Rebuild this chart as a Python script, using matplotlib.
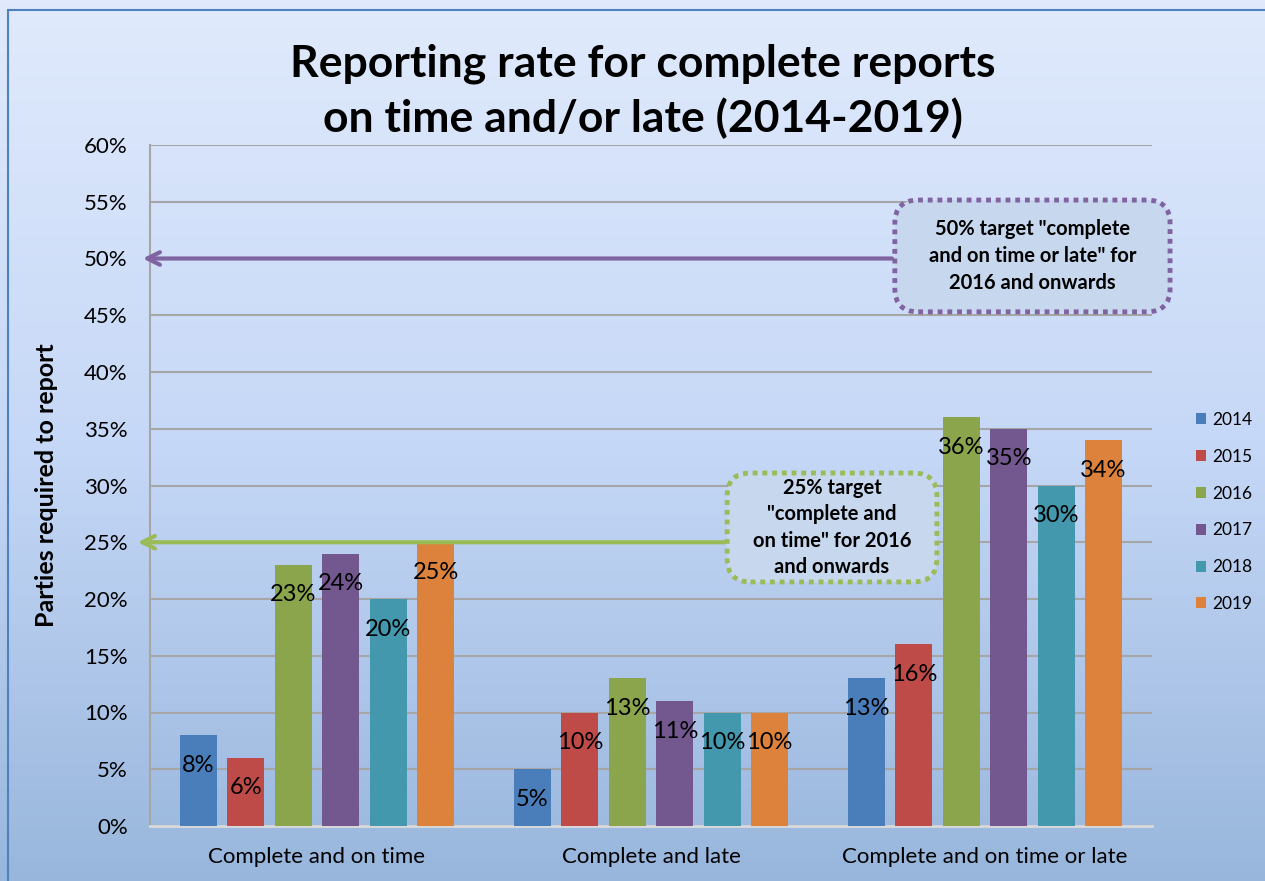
import numpy as np
import matplotlib.pyplot as plt
from matplotlib.colors import LinearSegmentedColormap
from matplotlib.patches import FancyBboxPatch, Rectangle

# chart data
categories = ['Complete and on time', 'Complete and late', 'Complete and on time or late']
years = ['2014', '2015', '2016', '2017', '2018', '2019']
values = {
    '2014': [8, 5, 13],
    '2015': [6, 10, 16],
    '2016': [23, 13, 36],
    '2017': [24, 11, 35],
    '2018': [20, 10, 30],
    '2019': [25, 10, 34],
}
colors = ['#4a7ebb', '#be4b48', '#8ba54c', '#72588e', '#4398ae', '#dc823c']
target_high = 50
target_low = 25

plt.rcParams['font.family'] = ['Lato', 'DejaVu Sans']

fig = plt.figure(figsize=(12.65, 8.81), dpi=100)

# gradient background over the whole figure
bg = fig.add_axes([0, 0, 1, 1], zorder=-10)
cmap = LinearSegmentedColormap.from_list('bg', ['#e0eafc', '#c6d8f7', '#98b6dc'])
grad = np.linspace(0, 1, 256).reshape(-1, 1)
bg.imshow(grad, aspect='auto', cmap=cmap, extent=[0, 1, 0, 1], origin='upper')
bg.axis('off')
fig.patches.append(Rectangle((8 / 1265, -0.05), 1.2, 1.05 - 10 / 881,
                             transform=fig.transFigure, fill=False,
                             edgecolor='#4f81bd', linewidth=1.5))

ax = fig.add_axes([150 / 1265, 55 / 881, 1002 / 1265, 681 / 881])
ax.patch.set_alpha(0)

x = np.arange(len(categories))
step = 0.142
width = 0.111
for i, (yr, c) in enumerate(zip(years, colors)):
    pos = x + (i - 2.5) * step
    bars = ax.bar(pos, values[yr], width=width, color=c, label=yr, zorder=3)
    for b, v in zip(bars, values[yr]):
        ax.annotate(f'{v}%', (b.get_x() + b.get_width() / 2, v),
                    xytext=(0, -30), textcoords='offset pixels',
                    ha='center', va='center', fontsize=17, color='black', zorder=5)

ax.set_xlim(-0.5, 2.5)
ax.set_ylim(0, 60)
ax.set_yticks(range(0, 61, 5))
ax.set_yticklabels([f'{t}%' for t in range(0, 61, 5)])
ax.set_xticks(x)
ax.set_xticklabels(categories)
ax.tick_params(axis='both', length=0, labelsize=16)
ax.tick_params(axis='y', pad=16)
ax.tick_params(axis='x', pad=15)
ax.grid(axis='y', color='#a6a6a6', linewidth=1.5, zorder=0)
for s in ['top', 'right']:
    ax.spines[s].set_visible(False)
ax.spines['left'].set_color('#a6a6a6')
ax.spines['left'].set_linewidth(1.5)
ax.spines['bottom'].set_color('#d9d9d9')
ax.spines['bottom'].set_linewidth(2)

# target arrows
ax.annotate('', xy=(-0.53, target_high), xytext=(1.73, target_high),
            arrowprops=dict(arrowstyle='->,head_length=0.9,head_width=0.45',
                            color='#8064a2', lw=3),
            annotation_clip=False, zorder=6)
ax.annotate('', xy=(-0.545, target_low), xytext=(1.228, target_low),
            arrowprops=dict(arrowstyle='->,head_length=0.9,head_width=0.45',
                            color='#9bbb59', lw=3),
            annotation_clip=False, zorder=6)

# target boxes
aspect = 334 / 11.35
box1 = FancyBboxPatch((1.73, 45.3), 2.554 - 1.73, 55.15 - 45.3,
                      boxstyle='round,pad=0,rounding_size=0.07',
                      mutation_aspect=aspect, facecolor='#c7d8ee',
                      edgecolor='#8064a2', linewidth=3.5,
                      linestyle=(0, (1, 1)), zorder=7, clip_on=False)
ax.add_patch(box1)
ax.text((1.73 + 2.554) / 2, (45.3 + 55.15) / 2,
        '50% target "complete\nand on time or late" for\n2016 and onwards',
        ha='center', va='center', fontsize=14.5, fontweight='bold',
        linespacing=1.42, zorder=8)
box2 = FancyBboxPatch((1.228, 21.5), 1.856 - 1.228, 31.1 - 21.5,
                      boxstyle='round,pad=0,rounding_size=0.07',
                      mutation_aspect=aspect, facecolor='#c7d8ee',
                      edgecolor='#9bbb59', linewidth=3.5,
                      linestyle=(0, (1, 1)), zorder=7, clip_on=False)
ax.add_patch(box2)
ax.text((1.228 + 1.856) / 2, (21.5 + 31.1) / 2,
        '25% target\n"complete and\non time" for 2016\nand onwards',
        ha='center', va='center', fontsize=14.5, fontweight='bold',
        linespacing=1.38, zorder=8)

fig.legend(loc='center left', bbox_to_anchor=(1180 / 1265, 1 - 512 / 881),
           frameon=False, fontsize=12.5, handlelength=0.6, handleheight=0.6,
           handletextpad=0.35, labelspacing=1.2)

fig.text(47 / 1265, 1 - 485 / 881, 'Parties required to report', rotation=90,
         ha='center', va='center', fontsize=18, fontweight='bold')
fig.text(643 / 1265, 1 - 91 / 881,
         'Reporting rate for complete reports\non time and/or late (2014-2019)',
         ha='center', va='center', fontsize=32, fontweight='bold', linespacing=1.38)

fig.savefig('out.png', dpi=100)
